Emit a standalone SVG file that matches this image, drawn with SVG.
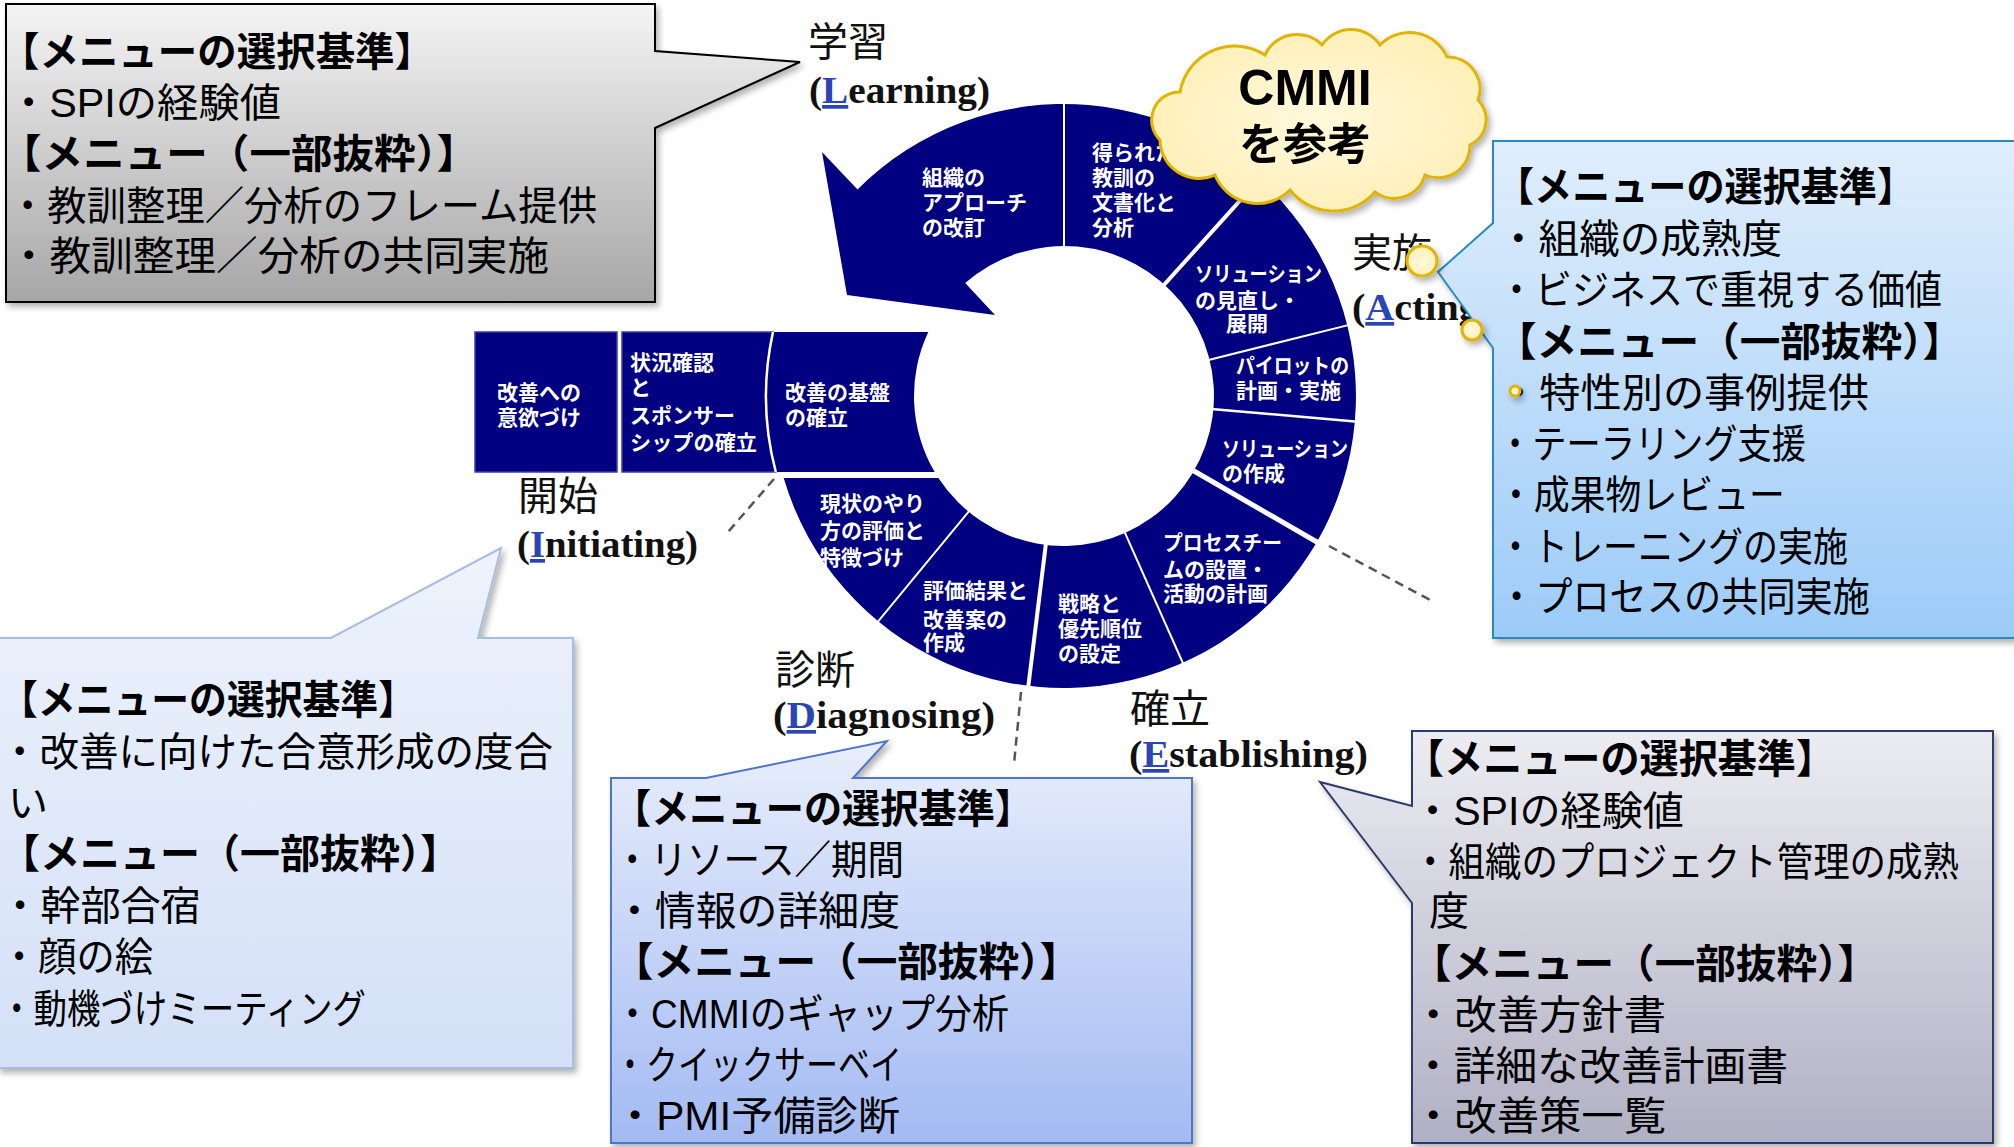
<svg xmlns="http://www.w3.org/2000/svg" width="2014" height="1147" viewBox="0 0 2014 1147">
<defs>
<linearGradient id="gGray" x1="0" y1="0" x2="0" y2="1"><stop offset="0" stop-color="#F4F4F4"/><stop offset="1" stop-color="#A6A6A6"/></linearGradient>
<linearGradient id="gBlue" x1="0" y1="0" x2="0" y2="1"><stop offset="0" stop-color="#E0EEFC"/><stop offset="1" stop-color="#9CCBF8"/></linearGradient>
<linearGradient id="gPale" x1="0" y1="0" x2="0" y2="1"><stop offset="0" stop-color="#EEF3FC"/><stop offset="1" stop-color="#D3E0F7"/></linearGradient>
<linearGradient id="gMid" x1="0" y1="0" x2="0" y2="1"><stop offset="0" stop-color="#E8EEFC"/><stop offset="1" stop-color="#A3BAF2"/></linearGradient>
<linearGradient id="gLav" x1="0" y1="0" x2="0" y2="1"><stop offset="0" stop-color="#ECECF2"/><stop offset="1" stop-color="#B0B0C4"/></linearGradient>
<radialGradient id="gCloud" cx="0.5" cy="0.5" r="0.6"><stop offset="0" stop-color="#FFF8DC"/><stop offset="1" stop-color="#FFEFB4"/></radialGradient>
<filter id="sh" x="-10%" y="-10%" width="125%" height="125%"><feDropShadow dx="3" dy="4" stdDeviation="3" flood-color="#000" flood-opacity="0.3"/></filter>
<style>
.seg{fill:#000080}
.blk{fill:#000080;stroke:#3C3CA8;stroke-width:1.5}
.dv{stroke:#fff;fill:none}
.st{font-family:"Liberation Sans","Noto Sans CJK JP",sans-serif;font-weight:700;font-size:21px;fill:#fff}
.bt{font-family:"Liberation Sans","Noto Sans CJK JP",sans-serif;font-size:40px;fill:#000}
.bh{font-weight:700}
.jl{font-family:"Liberation Sans","Noto Sans CJK JP",sans-serif;font-size:40px;fill:#111}
.el{font-family:"Liberation Serif",serif;font-weight:700;font-size:37px;fill:#111}
.ini{fill:#2B45B5;text-decoration:underline}
.dash{stroke:#555;stroke-width:2.5;stroke-dasharray:9 6;fill:none}
.cl{fill:url(#gCloud);stroke:#E2B300;stroke-width:3}
.ct{font-family:"Liberation Sans","Noto Sans CJK JP",sans-serif;font-weight:700;fill:#000;text-anchor:middle}
</style>
</defs>
<rect width="2014" height="1147" fill="#fff"/>

<g id="cycle">
<path class="seg" d="M965.2 283.1 L995 315 L847 295 L822 152 L857.5 189.5 A292 292 0 1 1 783.7 478 L938.4 478 A150 150 0 1 0 965.2 283.1 Z"/>
<path class="blk" d="M475 332 H617 V472 H475 Z"/>
<path class="blk" d="M622 332 L773 332 A298 298 0 0 0 775.8 472 L622 472 Z"/>
<path class="seg" d="M773 332 A298 298 0 0 0 775.8 472 L934.7 472 A150 150 0 0 1 928.3 332 Z"/>
<path class="dv" stroke-width="2.5" d="M773 332 A298 298 0 0 0 775.8 472"/>
<line class="dv" stroke-width="2" x1="1064" y1="248" x2="1064" y2="101"/>
<line class="dv" stroke-width="4" x1="1163" y1="286" x2="1261.4" y2="176.8"/>
<line class="dv" stroke-width="2" x1="1207.6" y1="360.2" x2="1350.2" y2="324.6"/>
<line class="dv" stroke-width="2.5" x1="1211.4" y1="408.9" x2="1357.9" y2="421.7"/>
<line class="dv" stroke-width="5" x1="1192.2" y1="470" x2="1319.5" y2="543.5"/>
<line class="dv" stroke-width="2" x1="1124.2" y1="531.2" x2="1184" y2="665.5"/>
<line class="dv" stroke-width="4" x1="1046" y1="542.9" x2="1028" y2="688.8"/>
<line class="dv" stroke-width="2" x1="969.9" y1="510.2" x2="876.3" y2="623.6"/>
</g>

<g id="seg-learning-1"><text class="st" x="922" y="185">組織の</text><text class="st" x="922" y="210">アプローチ</text><text class="st" x="922" y="235">の改訂</text></g>
<g id="seg-learning-2"><text class="st" x="1092" y="160">得られた</text><text class="st" x="1092" y="185">教訓の</text><text class="st" x="1092" y="210">文書化と</text><text class="st" x="1092" y="235">分析</text></g>
<g id="seg-acting-1"><text class="st" x="1195" y="281" textLength="127" lengthAdjust="spacingAndGlyphs">ソリューション</text><text class="st" x="1195" y="308">の見直し・</text><text class="st" x="1226" y="331">展開</text></g>
<g id="seg-acting-2"><text class="st" x="1236" y="373" textLength="113" lengthAdjust="spacingAndGlyphs">パイロットの</text><text class="st" x="1236" y="398">計画・実施</text></g>
<g id="seg-acting-3"><text class="st" x="1222" y="456" textLength="126" lengthAdjust="spacingAndGlyphs">ソリューション</text><text class="st" x="1222" y="481">の作成</text></g>
<g id="seg-est-1"><text class="st" x="1163" y="550" textLength="119" lengthAdjust="spacingAndGlyphs">プロセスチー</text><text class="st" x="1163" y="577">ムの設置・</text><text class="st" x="1163" y="601">活動の計画</text></g>
<g id="seg-est-2"><text class="st" x="1058" y="611">戦略と</text><text class="st" x="1058" y="636">優先順位</text><text class="st" x="1058" y="661">の設定</text></g>
<g id="seg-diag-1"><text class="st" x="923" y="598">評価結果と</text><text class="st" x="923" y="627">改善案の</text><text class="st" x="923" y="650">作成</text></g>
<g id="seg-diag-2"><text class="st" x="820" y="511">現状のやり</text><text class="st" x="820" y="538">方の評価と</text><text class="st" x="820" y="565">特徴づけ</text></g>
<g id="seg-init-3"><text class="st" x="785" y="400">改善の基盤</text><text class="st" x="785" y="425">の確立</text></g>
<g id="seg-init-2"><text class="st" x="630" y="370">状況確認</text><text class="st" x="630" y="395">と</text><text class="st" x="630" y="423">スポンサー</text><text class="st" x="630" y="450" textLength="127" lengthAdjust="spacingAndGlyphs">シップの確立</text></g>
<g id="seg-init-1"><text class="st" x="497" y="400">改善への</text><text class="st" x="497" y="425">意欲づけ</text></g>

<g id="connectors">
<line class="dash" x1="774" y1="479" x2="728" y2="532"/>
<line class="dash" x1="1021" y1="692" x2="1014" y2="764"/>
<line class="dash" x1="1329" y1="546" x2="1432" y2="601"/>
</g>

<g id="label-learning"><text class="jl" x="808" y="56">学習</text><text class="el" x="809" y="103" textLength="181" lengthAdjust="spacingAndGlyphs">(<tspan class="ini">L</tspan>earning)</text></g>
<g id="label-acting"><text class="jl" x="1352" y="267">実施</text><text class="el" x="1352" y="320" textLength="140" lengthAdjust="spacingAndGlyphs">(<tspan class="ini">A</tspan>cting)</text></g>
<g id="label-initiating"><text class="jl" x="518" y="510">開始</text><text class="el" x="517" y="557" textLength="181" lengthAdjust="spacingAndGlyphs">(<tspan class="ini">I</tspan>nitiating)</text></g>
<g id="label-diagnosing"><text class="jl" x="775" y="684">診断</text><text class="el" x="773" y="728" textLength="222" lengthAdjust="spacingAndGlyphs">(<tspan class="ini">D</tspan>iagnosing)</text></g>
<g id="label-establishing"><text class="jl" x="1130" y="723">確立</text><text class="el" x="1129" y="767" textLength="239" lengthAdjust="spacingAndGlyphs">(<tspan class="ini">E</tspan>stablishing)</text></g>

<g id="box-learning">
<path d="M6 4 H655 V51 L800 62 L655 128 V302 H6 Z" fill="url(#gGray)" stroke="#000" stroke-width="2" filter="url(#sh)"/>
<text class="bt bh" x="0" y="66" textLength="434" lengthAdjust="spacingAndGlyphs">【メニューの選択基準】</text>
<text class="bt" x="8" y="117" textLength="273" lengthAdjust="spacingAndGlyphs">・SPIの経験値</text>
<text class="bt bh" x="0" y="168" textLength="478" lengthAdjust="spacingAndGlyphs">【メニュー（一部抜粋）】</text>
<text class="bt" x="8" y="220" textLength="589" lengthAdjust="spacingAndGlyphs">・教訓整理／分析のフレーム提供</text>
<text class="bt" x="8" y="270" textLength="541" lengthAdjust="spacingAndGlyphs">・教訓整理／分析の共同実施</text>
</g>

<g id="box-acting">
<path d="M1493 141 H2030 V638 H1493 V348 L1438 272 L1493 223 Z" fill="url(#gBlue)" stroke="#2C8AC0" stroke-width="2" filter="url(#sh)"/>
<text class="bt bh" x="1496" y="201" textLength="419" lengthAdjust="spacingAndGlyphs">【メニューの選択基準】</text>
<text class="bt" x="1498" y="253" textLength="284" lengthAdjust="spacingAndGlyphs">・組織の成熟度</text>
<text class="bt" x="1498" y="304" textLength="444" lengthAdjust="spacingAndGlyphs">・ビジネスで重視する価値</text>
<text class="bt bh" x="1496" y="356" textLength="467" lengthAdjust="spacingAndGlyphs">【メニュー（一部抜粋）】</text>
<text class="bt" x="1498" y="407" textLength="371" lengthAdjust="spacingAndGlyphs">・特性別の事例提供</text>
<text class="bt" x="1498" y="458" textLength="308" lengthAdjust="spacingAndGlyphs">・テーラリング支援</text>
<text class="bt" x="1498" y="509" textLength="287" lengthAdjust="spacingAndGlyphs">・成果物レビュー</text>
<text class="bt" x="1498" y="561" textLength="350" lengthAdjust="spacingAndGlyphs">・トレーニングの実施</text>
<text class="bt" x="1498" y="611" textLength="372" lengthAdjust="spacingAndGlyphs">・プロセスの共同実施</text>
</g>

<g id="box-initiating">
<path d="M-2 638 H331 L501 548 L478 638 H573 V1068 H-2 Z" fill="url(#gPale)" stroke="#A8BEE0" stroke-width="2" filter="url(#sh)"/>
<text class="bt bh" x="0" y="714" textLength="416" lengthAdjust="spacingAndGlyphs">【メニューの選択基準】</text>
<text class="bt" x="0" y="766" textLength="553" lengthAdjust="spacingAndGlyphs">・改善に向けた合意形成の度合</text>
<text class="bt" x="8" y="817">い</text>
<text class="bt bh" x="0" y="868" textLength="460" lengthAdjust="spacingAndGlyphs">【メニュー（一部抜粋）】</text>
<text class="bt" x="0" y="920" textLength="201" lengthAdjust="spacingAndGlyphs">・幹部合宿</text>
<text class="bt" x="0" y="971" textLength="153" lengthAdjust="spacingAndGlyphs">・顔の絵</text>
<text class="bt" x="0" y="1023" textLength="366" lengthAdjust="spacingAndGlyphs">・動機づけミーティング</text>
</g>

<g id="box-diagnosing">
<path d="M611 778 H706 L887 741 L853 778 H1192 V1143 H611 Z" fill="url(#gMid)" stroke="#4F75C6" stroke-width="2" filter="url(#sh)"/>
<text class="bt bh" x="613" y="823" textLength="420" lengthAdjust="spacingAndGlyphs">【メニューの選択基準】</text>
<text class="bt" x="614" y="874" textLength="290" lengthAdjust="spacingAndGlyphs">・リソース／期間</text>
<text class="bt" x="614" y="925" textLength="286" lengthAdjust="spacingAndGlyphs">・情報の詳細度</text>
<text class="bt bh" x="613" y="976" textLength="467" lengthAdjust="spacingAndGlyphs">【メニュー（一部抜粋）】</text>
<text class="bt" x="614" y="1028" textLength="395" lengthAdjust="spacingAndGlyphs">・CMMIのギャップ分析</text>
<text class="bt" x="614" y="1079" textLength="288" lengthAdjust="spacingAndGlyphs">・クイックサーベイ</text>
<text class="bt" x="614" y="1130" textLength="286" lengthAdjust="spacingAndGlyphs">・PMI予備診断</text>
</g>

<g id="box-establishing">
<path d="M1412 731 H1993 V1143 H1412 V903 L1320 782 L1412 806 Z" fill="url(#gLav)" stroke="#2A3A6A" stroke-width="2" filter="url(#sh)"/>
<text class="bt bh" x="1405" y="773" textLength="430" lengthAdjust="spacingAndGlyphs">【メニューの選択基準】</text>
<text class="bt" x="1412" y="825" textLength="272" lengthAdjust="spacingAndGlyphs">・SPIの経験値</text>
<text class="bt" x="1412" y="876" textLength="547" lengthAdjust="spacingAndGlyphs">・組織のプロジェクト管理の成熟</text>
<text class="bt" x="1429" y="925">度</text>
<text class="bt bh" x="1411" y="978" textLength="467" lengthAdjust="spacingAndGlyphs">【メニュー（一部抜粋）】</text>
<text class="bt" x="1412" y="1029" textLength="254" lengthAdjust="spacingAndGlyphs">・改善方針書</text>
<text class="bt" x="1412" y="1080" textLength="376" lengthAdjust="spacingAndGlyphs">・詳細な改善計画書</text>
<text class="bt" x="1412" y="1130" textLength="254" lengthAdjust="spacingAndGlyphs">・改善策一覧</text>
</g>

<g id="cloud-cmmi" filter="url(#sh)">
<path class="cl" d="M1180 92 A55.6 55.6 0 0 1 1265 55 A35 35 0 0 1 1322 45 A35 35 0 0 1 1380 45 A41 41 0 0 1 1447 57 A32 32 0 0 1 1478 100 A28 28 0 0 1 1470 145 A32 32 0 0 1 1425 175 A32 32 0 0 1 1375 192 A55 55 0 0 1 1290 190 A46 46 0 0 1 1215 175 A39 39 0 0 1 1160 140 A28 28 0 0 1 1180 92 Z"/>
<circle class="cl" cx="1422" cy="261" r="15"/>
<circle class="cl" cx="1472" cy="330" r="10"/>
<circle class="cl" cx="1515" cy="391" r="5" stroke-width="2"/>
<text class="ct" x="1305" y="105" font-size="50">CMMI</text>
<text class="ct" x="1305" y="160" font-size="44">を参考</text>
</g>
</svg>
